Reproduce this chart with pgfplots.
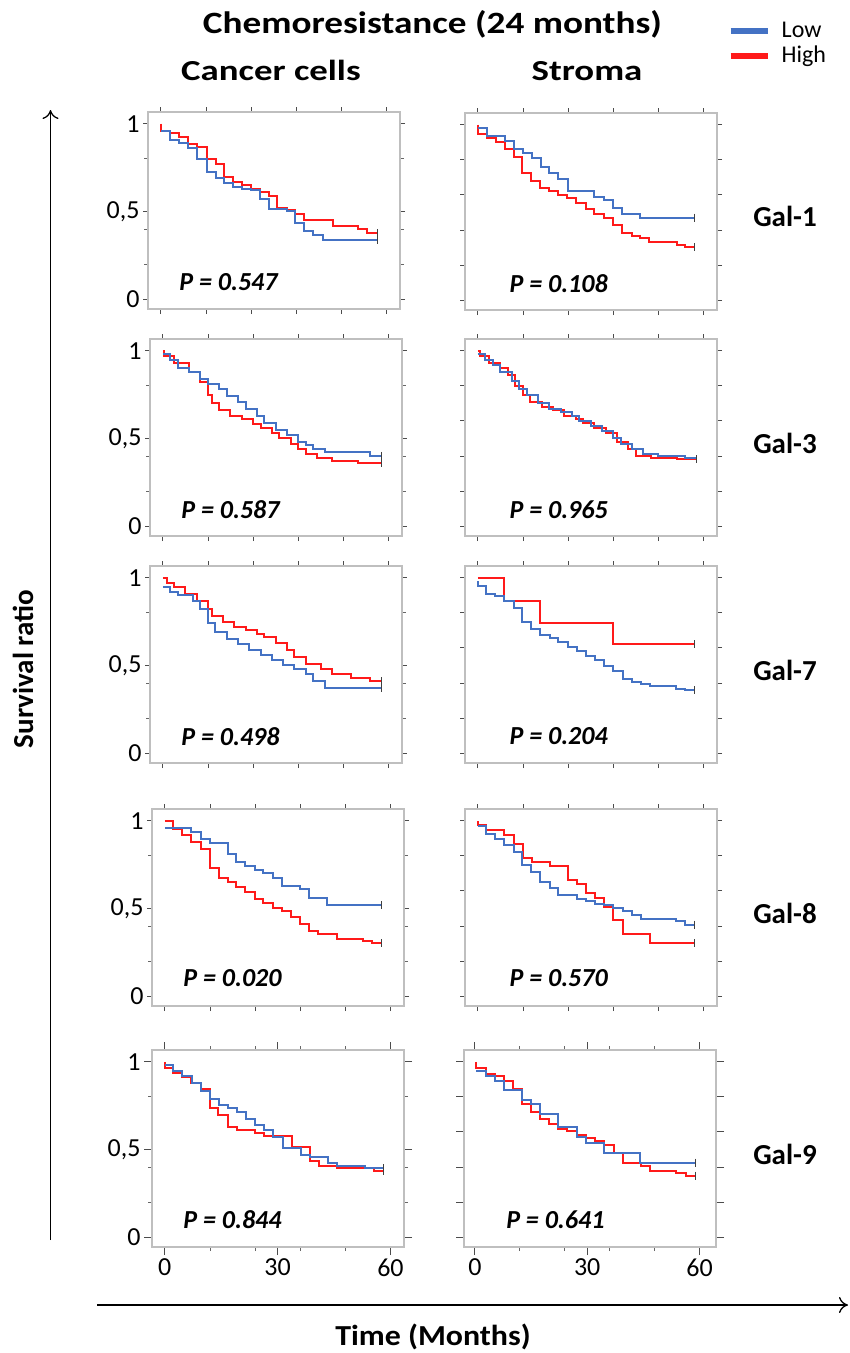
\documentclass[border=0pt]{standalone}
\usepackage{graphicx}
\usepackage{pgfplots}
\pgfplotsset{compat=1.18}
\usepackage{fontspec}
\setmainfont{Carlito}
\usetikzlibrary{arrows.meta}
\definecolor{kmblue}{HTML}{4472C4}
\definecolor{kmred}{HTML}{FF1A1A}
\definecolor{boxgray}{HTML}{BFBFBF}
\pgfplotsset{
  km/.style={
    scale only axis, width=252pt, height=197pt, anchor=north west,
    axis line style={boxgray, line width=1.2pt},
    ymin=-0.057, ymax=1.067, xmin=-3.4, xmax=63.6,
    tick align=outside, major tick length=5pt, minor tick length=4pt,
    major tick style={black!70, line width=0.8pt},
    minor tick style={black!60, line width=0.8pt},
    xtick={0,12,24,36,48,60}, xticklabels={},
    ytick={0,0.2,0.4,0.6,0.8,1}, yticklabels={},
    tick label style={font=\fontsize{26}{30}\selectfont},
    clip=false,
  },
  kmleft/.style={ytick={0,0.5,1}, yticklabels={0,{0,5},1}, minor ytick={0.2,0.4,0.8}},
  kmbottom/.style={xtick={0,30,60}, xticklabels={0,30,60}, minor xtick={12,24,36,48}, major tick length=8pt},
  lowc/.style={const plot, kmblue, line width=2pt, no marks},
  highc/.style={const plot, kmred, line width=2pt, no marks},
  cens/.style={only marks, mark=|, mark size=4pt, mark options={black!75, line width=0.8pt}},
}
\newcommand{\pval}[3]{\node[font=\fontsize{26}{30}\selectfont\bfseries\itshape] at (axis cs:#1,#2) {P = #3};}
\begin{document}
\begin{tikzpicture}[x=1pt,y=1pt]
\useasboundingbox (0,0) rectangle (850,-1353);
% titles
\node[anchor=base, font=\fontsize{31}{36}\selectfont\bfseries] at (432.5,-33.3) {\scalebox{1.2}[1]{Chemoresistance (24 months)}};
\node[anchor=base, font=\fontsize{29}{34}\selectfont\bfseries] at (271,-80) {\scalebox{1.27}[1]{Cancer cells}};
\node[anchor=base, font=\fontsize{29}{34}\selectfont\bfseries] at (587,-80) {\scalebox{1.27}[1]{Stroma}};
\foreach \lab/\yy in {Gal-1/226.7, Gal-3/453.7, Gal-7/680.7, Gal-8/923.7, Gal-9/1164.7}
  \node[anchor=base, font=\fontsize{29}{34}\selectfont\bfseries] at (785,-\yy) {\lab};
% legend
\draw[kmblue, line width=6pt] (730.5,-31) -- (768,-31);
\draw[kmred, line width=6pt] (730.5,-55.5) -- (768,-55.5);
\node[anchor=base west, inner sep=0pt, font=\fontsize{24}{28}\selectfont] at (781.5,-37.3) {Low};
\node[anchor=base west, inner sep=0pt, font=\fontsize{24}{28}\selectfont] at (781.5,-62.5) {High};
% big axes
\draw[line width=1.3pt, -{To[length=9pt,width=16pt]}] (50.5,-1240) -- (50.5,-110);
\draw[line width=1.3pt, -{To[length=9pt,width=16pt]}] (97,-1305) -- (848,-1305);
\node[rotate=90, font=\fontsize{29}{34}\selectfont\bfseries] at (23,-669) {Survival ratio};
\node[anchor=base, font=\fontsize{29}{34}\selectfont\bfseries] at (433,-1345) {\scalebox{1.1}[1]{Time (Months)}};

% ---------- Row 1: Gal-1 ----------
\begin{axis}[km, kmleft, at={(148pt,-112pt)}]
\addplot[highc] coordinates {(0,1.0)(0,0.96)(2.5,0.945)(4.9,0.925)(7.2,0.885)(9.7,0.865)(12.2,0.80)(14.6,0.77)(16.9,0.695)(19.2,0.67)(21.6,0.65)(24,0.63)(26.5,0.61)(28.7,0.585)(30.9,0.52)(33.5,0.51)(35.7,0.485)(38.1,0.45)(45.9,0.415)(52.5,0.40)(54.7,0.375)(57.5,0.375)};
\addplot[lowc] coordinates {(0,0.96)(2.5,0.91)(4.9,0.89)(7.2,0.86)(9.7,0.80)(12.2,0.725)(14.6,0.69)(16.9,0.66)(19.2,0.64)(21.6,0.63)(24,0.62)(26.5,0.57)(28.9,0.515)(33.5,0.50)(35.7,0.435)(38.1,0.39)(40.6,0.366)(43.1,0.338)(57.5,0.338)};
\addplot[cens] coordinates {(57.5,0.375)(57.5,0.338)};
\pval{18}{0.095}{0.547}
\end{axis}
\begin{axis}[km, at={(465pt,-113pt)}]
\addplot[highc] coordinates {(0,1.0)(0,0.95)(2.4,0.925)(4.9,0.90)(7.3,0.86)(9.5,0.818)(11.7,0.724)(14.1,0.68)(16.5,0.64)(19,0.62)(21.4,0.60)(23.8,0.583)(26.2,0.555)(28.7,0.517)(31,0.49)(33.5,0.466)(35.9,0.43)(38.4,0.385)(40.9,0.367)(43.2,0.353)(45.6,0.33)(53,0.316)(55.2,0.30)(57.5,0.30)};
\addplot[lowc] coordinates {(0,0.98)(2.4,0.934)(7.3,0.906)(9.5,0.86)(11.9,0.836)(14.4,0.81)(16.8,0.76)(19,0.725)(21.4,0.69)(24,0.62)(31,0.59)(33.5,0.568)(35.9,0.523)(38.4,0.49)(43.2,0.47)(57.5,0.47)};
\addplot[cens] coordinates {(57.5,0.30)(57.5,0.47)};
\pval{21.5}{0.095}{0.108}
\end{axis}

% ---------- Row 2: Gal-3 ----------
\begin{axis}[km, kmleft, at={(150pt,-339pt)}]
\addplot[highc] coordinates {(0,1.0)(0.3,0.97)(3,0.93)(7,0.88)(10,0.82)(12,0.75)(13,0.70)(15,0.66)(18,0.63)(21,0.61)(24,0.58)(26,0.56)(29,0.53)(31,0.50)(34,0.47)(36,0.44)(38,0.41)(41,0.39)(45,0.37)(52,0.36)(58,0.36)};
\addplot[lowc] coordinates {(0,0.98)(2,0.95)(4,0.90)(7,0.88)(10,0.84)(12,0.81)(15,0.78)(17,0.74)(20,0.71)(22,0.67)(25,0.63)(27,0.59)(30,0.55)(33,0.52)(36,0.48)(38,0.46)(40,0.44)(43,0.42)(55,0.40)(58,0.40)};
\addplot[cens] coordinates {(58,0.36)(58,0.40)};
\pval{18}{0.095}{0.587}
\end{axis}
\begin{axis}[km, at={(465pt,-339pt)}]
\addplot[highc] coordinates {(0,1.0)(0.5,0.97)(3,0.93)(6,0.90)(8,0.86)(10,0.80)(12,0.75)(14,0.71)(17,0.68)(20,0.66)(23,0.63)(26,0.61)(28,0.59)(31,0.56)(34,0.53)(37,0.48)(40,0.44)(42,0.40)(46,0.39)(53,0.385)(58,0.38)};
\addplot[lowc] coordinates {(0,0.98)(2,0.95)(4,0.92)(6,0.88)(9,0.83)(11,0.78)(13,0.75)(16,0.70)(19,0.67)(22,0.65)(25,0.63)(27,0.60)(30,0.57)(33,0.54)(36,0.50)(38,0.47)(41,0.44)(44,0.41)(48,0.40)(55,0.39)(58,0.38)};
\addplot[cens] coordinates {(58,0.38)};
\pval{21.5}{0.095}{0.965}
\end{axis}

% ---------- Row 3: Gal-7 ----------
\begin{axis}[km, kmleft, at={(150pt,-566pt)}]
\addplot[highc] coordinates {(0,1.0)(1,0.97)(3,0.95)(6,0.91)(9,0.87)(12,0.82)(13,0.78)(16,0.75)(19,0.72)(22,0.70)(25,0.68)(27,0.66)(30,0.63)(33,0.59)(35,0.55)(38,0.51)(42,0.48)(45,0.45)(50,0.43)(55,0.41)(58,0.41)};
\addplot[lowc] coordinates {(0,0.95)(2,0.92)(4,0.90)(8,0.87)(10,0.82)(12,0.74)(14,0.69)(17,0.65)(20,0.62)(23,0.59)(26,0.56)(29,0.53)(32,0.50)(35,0.48)(38,0.45)(40,0.41)(43,0.37)(58,0.37)};
\addplot[cens] coordinates {(58,0.41)(58,0.37)};
\pval{18}{0.095}{0.498}
\end{axis}
\begin{axis}[km, at={(465pt,-566pt)}]
\addplot[highc] coordinates {(0,1.0)(7.1,0.87)(16.6,0.74)(36,0.62)(57.6,0.62)};
\addplot[lowc] coordinates {(0,0.98)(0,0.955)(2.3,0.91)(4.7,0.897)(7.1,0.87)(9.5,0.827)(11.7,0.746)(14.2,0.705)(16.6,0.673)(19.1,0.654)(21.4,0.635)(23.9,0.607)(26.3,0.583)(28.8,0.555)(31.2,0.53)(33.5,0.498)(36,0.47)(38.5,0.423)(40.9,0.408)(43.3,0.395)(45.7,0.38)(52.8,0.367)(55,0.357)(57.6,0.357)};
\addplot[cens] coordinates {(57.6,0.62)(57.6,0.357)};
\pval{21.5}{0.095}{0.204}
\end{axis}

% ---------- Row 4: Gal-8 ----------
\begin{axis}[km, kmleft, at={(152pt,-809pt)}]
\addplot[highc] coordinates {(0,1.0)(2.2,0.952)(4.6,0.92)(7.1,0.88)(9.5,0.838)(11.9,0.728)(14.3,0.676)(16.7,0.648)(19,0.623)(21.4,0.594)(23.9,0.556)(26.2,0.53)(28.7,0.50)(31.1,0.486)(33.6,0.451)(36,0.41)(38.4,0.371)(40.8,0.356)(45.7,0.328)(52.7,0.314)(55.2,0.30)(57.6,0.30)};
\addplot[lowc] coordinates {(0,0.956)(7.1,0.937)(9.5,0.895)(11.9,0.872)(16.7,0.81)(19,0.766)(21.4,0.743)(23.9,0.72)(26.2,0.70)(28.7,0.676)(31.1,0.629)(36,0.61)(38.4,0.562)(43.2,0.518)(57.6,0.518)};
\addplot[cens] coordinates {(57.6,0.30)(57.6,0.518)};
\pval{18}{0.105}{0.020}
\end{axis}
\begin{axis}[km, at={(465pt,-809pt)}]
\addplot[highc] coordinates {(0,0.996)(0,0.974)(2.3,0.949)(7.1,0.921)(9.5,0.87)(12,0.79)(14.4,0.767)(19.2,0.742)(23.9,0.664)(26.3,0.639)(28.8,0.588)(31.2,0.558)(33.5,0.508)(36,0.432)(38.5,0.353)(45.7,0.30)(57.6,0.30)};
\addplot[lowc] coordinates {(0,0.968)(2.3,0.927)(4.7,0.898)(7.1,0.859)(9.5,0.821)(11.7,0.746)(14.2,0.71)(16.6,0.652)(19.1,0.617)(21.4,0.579)(26.3,0.555)(28.8,0.54)(31.2,0.526)(33.5,0.517)(36,0.50)(38.5,0.483)(40.9,0.464)(43.3,0.438)(52.8,0.427)(55,0.408)(57.6,0.408)};
\addplot[cens] coordinates {(57.6,0.30)(57.6,0.408)};
\pval{21.5}{0.105}{0.570}
\end{axis}

% ---------- Row 5: Gal-9 ----------
\begin{axis}[km, kmleft, kmbottom, at={(152pt,-1050pt)}]
\addplot[highc] coordinates {(0,1.0)(0,0.962)(2.2,0.934)(4.7,0.915)(7,0.88)(9.6,0.843)(11.9,0.734)(14.1,0.696)(16.8,0.626)(19.2,0.611)(23.9,0.596)(26.3,0.577)(33.7,0.516)(38.6,0.431)(41,0.408)(45.7,0.393)(55.5,0.374)(58,0.374)};
\addplot[lowc] coordinates {(0,0.98)(2.2,0.949)(4.7,0.918)(7.2,0.88)(9.6,0.835)(12.1,0.786)(14.3,0.753)(16.8,0.734)(19.2,0.715)(21.7,0.671)(23.9,0.64)(26.3,0.611)(28.8,0.573)(31.3,0.507)(36.2,0.469)(38.6,0.455)(43.5,0.425)(45.9,0.406)(53.3,0.393)(58,0.393)};
\addplot[cens] coordinates {(58,0.374)(58,0.393)};
\pval{18}{0.098}{0.844}
\end{axis}
\begin{axis}[km, kmbottom, at={(464pt,-1050pt)}, xmin=-2.9, xmax=64.4]
\addplot[highc] coordinates {(0.4,1.0)(0.4,0.963)(2.9,0.931)(5.4,0.921)(7.8,0.893)(10.3,0.843)(12.5,0.757)(15,0.715)(17.4,0.674)(19.9,0.644)(22.3,0.618)(24.7,0.603)(27.2,0.584)(29.7,0.566)(32.1,0.547)(34.6,0.524)(37.1,0.481)(39.6,0.425)(44.5,0.406)(46.9,0.378)(53.8,0.363)(56.3,0.35)(58.9,0.35)};
\addplot[lowc] coordinates {(0.4,0.95)(2.9,0.921)(5.4,0.888)(7.8,0.837)(12.5,0.781)(15,0.757)(17.4,0.70)(22.3,0.625)(27.2,0.569)(29.7,0.537)(34.6,0.481)(44.2,0.425)(58.9,0.425)};
\addplot[cens] coordinates {(58.9,0.35)(58.9,0.425)};
\pval{21.5}{0.098}{0.641}
\end{axis}
\end{tikzpicture}
\end{document}
